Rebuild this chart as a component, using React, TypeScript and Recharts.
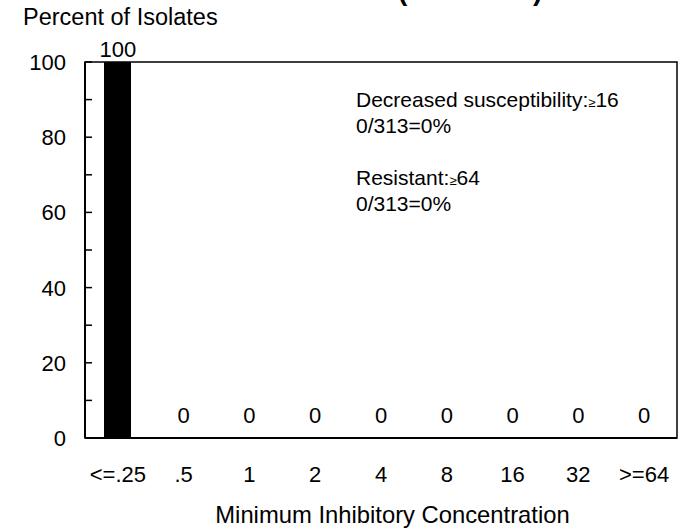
import { ComposedChart, Bar, Line, XAxis, YAxis, LabelList, ReferenceArea } from "recharts";

const micLabels = ["<=.25", ".5", "1", "2", "4", "8", "16", "32", ">=64"];
const percentIsolates = [100, 0, 0, 0, 0, 0, 0, 0, 0];
const yTicks = [0, 10, 20, 30, 40, 50, 60, 70, 80, 90, 100];
const yLabelStep = 20;

const data = micLabels.map((mic, i) => ({ mic, pct: percentIsolates[i] }));

const FONT = '"Liberation Sans", Arial, sans-serif';

// eslint-disable-next-line @typescript-eslint/no-explicit-any
function YTick({ x, y, payload }: any) {
  return (
    <g>
      <line x1={x + 19} x2={x + 26} y1={y} y2={y} stroke="#000" strokeWidth={1.5} />
      {payload.value % yLabelStep === 0 && (
        <text x={x} y={y} dy="0.36em" textAnchor="end" fontSize={22} fill="#000" fontFamily={FONT}>
          {payload.value}
        </text>
      )}
    </g>
  );
}

// labels hang off an invisible line so zero-height bars still get one
// eslint-disable-next-line @typescript-eslint/no-explicit-any
function ValueLabel({ x, y, value }: any) {
  const baseline = value === 0 ? y - 15 : y - 5;
  return (
    <text x={x} y={baseline} textAnchor="middle" fontSize={22} fill="#000" fontFamily={FONT}>
      {value}
    </text>
  );
}

export default function App() {
  return (
    <div style={{ position: "absolute", left: 0, top: 0, width: 685, height: 529, background: "#fff", fontFamily: FONT }}>
      <ComposedChart
        width={685}
        height={529}
        data={data}
        margin={{ top: 62, right: 8, bottom: 31, left: 25 }}
        barSize={27}
      >
        <ReferenceArea y1={0} y2={100} fill="none" stroke="#000" strokeWidth={1.5} />
        <XAxis
          dataKey="mic"
          height={60}
          tickSize={0}
          tickMargin={28}
          axisLine={{ stroke: "#000", strokeWidth: 2 }}
          tick={{ fontSize: 22, fill: "#000", fontFamily: FONT }}
          interval={0}
        />
        <YAxis
          width={60}
          domain={[0, 100]}
          ticks={yTicks}
          tickSize={0}
          tickMargin={19}
          tickLine={false}
          axisLine={{ stroke: "#000", strokeWidth: 2 }}
          tick={<YTick />}
          interval={0}
        />
        <Bar dataKey="pct" fill="#000" isAnimationActive={false} />
        <Line dataKey="pct" stroke="none" dot={false} activeDot={false} isAnimationActive={false}>
          <LabelList dataKey="pct" content={<ValueLabel />} />
        </Line>
      </ComposedChart>
      <svg
        width={685}
        height={529}
        style={{ position: "absolute", left: 0, top: 0, pointerEvents: "none" }}
        fontFamily={FONT}
        fill="#000"
      >
        <text x={398} y={0} fontSize={28} fontWeight="bold">(</text>
        <text x={533} y={0} fontSize={28} fontWeight="bold">)</text>
        <text x={23} y={25} fontSize={23.5}>Percent of Isolates</text>
        <text x={392.5} y={523} fontSize={23.8} textAnchor="middle">
          Minimum Inhibitory Concentration
        </text>
        <text x={356} y={107} fontSize={21}>
          Decreased susceptibility:<tspan fontSize={13}>≥</tspan>16
        </text>
        <text x={356} y={133} fontSize={21}>0/313=0%</text>
        <text x={356} y={185} fontSize={21}>
          Resistant:<tspan fontSize={13}>≥</tspan>64
        </text>
        <text x={356} y={211} fontSize={21}>0/313=0%</text>
      </svg>
    </div>
  );
}
